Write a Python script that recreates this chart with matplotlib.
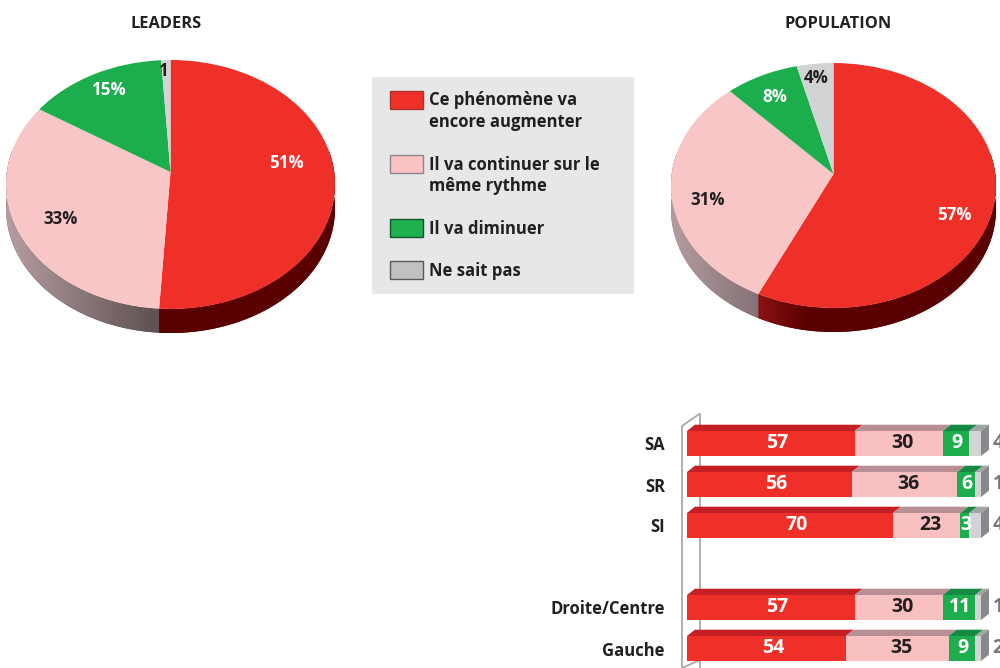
import numpy as np
import matplotlib
matplotlib.use('Agg')
import matplotlib.pyplot as plt
from matplotlib.colors import to_rgb
from matplotlib.patches import Rectangle
from matplotlib.transforms import Transform

plt.rcParams['font.family'] = ['Open Sans', 'DejaVu Sans']
plt.rcParams['font.weight'] = 'bold'

leaders = [51, 33, 15, 1]
population = [57, 31, 8, 4]
legend_labels = ['Ce phénomène va\nencore augmenter', 'Il va continuer sur le\nmême rythme',
                 'Il va diminuer', 'Ne sait pas']

groups = ['SA', 'SR', 'SI', '', 'Droite/Centre', 'Gauche']
more = [57, 56, 70, None, 57, 54]
same = [30, 36, 23, None, 30, 35]
less = [9, 6, 3, None, 11, 9]
dont_know = [4, 1, 4, None, 1, 2]

RED, PINK, GREEN, GREY = '#ef3029', '#f9c6c7', '#1cae4d', '#d1d3d4'
DARK = '#231f20'
W, H = 1000, 668


class PieTilt(Transform):
    """Unit circle to pixels, with the apex off the ellipse centre (perspective)."""
    input_dims = output_dims = 2

    def __init__(self, cx, cy, rx, ry, apex_y):
        super().__init__()
        self.cx, self.cy, self.rx, self.ry = cx, cy, rx, ry
        self.c = (cy - apex_y) / ry

    def transform_non_affine(self, values):
        u, v = np.asarray(values).T
        d = 1 + self.c * v
        x = self.cx + self.rx * np.sqrt(1 - self.c ** 2) * u / d
        y = self.cy - self.ry * (v + self.c) / d
        return np.column_stack([x, y])


def wall(ax, tilt, start, end, depth, stops):
    """Side of one slice, start and end in degrees clockwise from the top."""
    t = np.radians(np.linspace(max(start, 80), min(end, 280), 120))
    rim = tilt.transform_non_affine(np.column_stack([np.sin(t), np.cos(t)]))
    low = rim[::-1] + [0, depth]
    pts = np.vstack([rim, low])
    poly = ax.fill(pts[:, 0], pts[:, 1], color=stops[-1][1], lw=0, zorder=0.2)[0]
    x0, x1 = pts[:, 0].min(), pts[:, 0].max()
    xs = np.linspace(x0, x1, 256)
    px = [s[0] for s in stops]
    rgb = np.array([to_rgb(s[1]) for s in stops])
    grad = np.stack([np.interp(xs, px, rgb[:, i]) for i in range(3)], axis=-1)[None, :, :]
    im = ax.imshow(grad, extent=(x0, x1, pts[:, 1].max(), pts[:, 1].min()),
                   aspect='auto', zorder=0.3, interpolation='bilinear')
    im.set_clip_path(poly)


def tilted_pie(ax, values, tilt, depth, wall_stops):
    edges = np.cumsum([0] + values) * 3.6
    for i in range(2):
        wall(ax, tilt, edges[i], edges[i + 1], depth, wall_stops[i])
    wedges, _ = ax.pie(values, colors=[RED, PINK, GREEN, GREY], startangle=90, counterclock=False)
    for w in wedges:
        w.set_transform(tilt + ax.transData)
        w.set_zorder(1)


fig = plt.figure(figsize=(W / 100, H / 100), dpi=100)
ax = fig.add_axes([0, 0, 1, 1])

tilted_pie(ax, leaders, PieTilt(170.5, 184.5, 164.5, 124.5, 172), 24,
           [[(159, '#5a0000'), (340, '#5a0000')],
            [(8, '#b59ca0'), (159, '#5c4f50')]])
tilted_pie(ax, population, PieTilt(833.5, 185.5, 162.5, 122.5, 174), 24,
           [[(758, '#8c1414'), (805, '#5a0000')],
            [(674, '#b39a9e'), (758, '#857277')]])

ax.set_aspect('auto')
ax.set_xlim(0, W)
ax.set_ylim(H, 0)
ax.axis('off')

ax.text(166, 24.5, 'LEADERS', ha='center', va='center', fontsize=11.8, color=DARK)
ax.text(838.5, 24.5, 'POPULATION', ha='center', va='center', fontsize=11.8, color=DARK)

pie_texts = [(286.5, 163, '51%', 'white'), (109.5, 90, '15%', 'white'), (61, 219, '33%', DARK),
             (164, 71, '1', DARK), (954.5, 215, '57%', 'white'), (775, 97, '8%', 'white'),
             (708, 200, '31%', DARK), (816.5, 78, '4%', DARK)]
for x, y, s, col in pie_texts:
    ax.text(x, y, s, ha='center', va='center', fontsize=12.2, color=col, zorder=3)

# legend panel
ax.add_patch(Rectangle((372, 77), 262, 217, fc='#e6e7e8', ec='none', zorder=0.1))
swatches = [(91, 111, RED, '#a5352b'), (155, 175.5, '#fbc2c4', '#8f8587'),
            (219, 228.5, '#1fb04f', '#14572c'), (261, 270.5, '#bfc1c3', '#58595b')]
for (y0, yc, col, edge), label in zip(swatches, legend_labels):
    ax.add_patch(Rectangle((389.5, y0), 33.5, 18, fc=col, ec=edge, lw=1, zorder=2))
    ax.text(429, yc, label, ha='left', va='center', fontsize=12, color=DARK,
            linespacing=1.22, zorder=3)

# axis bracket behind the bars
bracket = '#a7a9ac'
ax.plot([700, 700, 682, 682, 700], [H, 413.5, 426, H, 660], color=bracket, lw=1.3, zorder=0.5,
        solid_joinstyle='miter')

# bars: x is percent, y is the group position
bx = fig.add_axes([687 / W, 1 - 669 / H, 294 / W, 246 / H])
bx.patch.set_alpha(0)
y = np.arange(len(groups))
has = np.array([m is not None for m in more])
vals = np.array([[m or 0, s or 0, l or 0] for m, s, l in zip(more, same, less)], dtype=float)
rest = np.where(has, 100 - vals.sum(axis=1), 0)
stack = np.column_stack([vals, rest])
height = 25 / 41
front = [RED, '#f9c0c1', GREEN, GREY]
top = ['#c51f26', '#b78f94', '#168a43', '#a2a4a6']
dx, dy = 8 / 2.94, 6.3 / 41

left = np.zeros(len(groups))
for j in range(4):
    bx.barh(y[has], stack[has, j], left=left[has], height=height, color=front[j], zorder=2)
    for yi, l, v in zip(y[has], left[has], stack[has, j]):
        up = yi - height / 2
        bx.fill([l, l + v, l + v + dx, l + dx], [up, up, up - dy, up - dy],
                color=top[j], lw=0, zorder=1.5, clip_on=False)
    left += stack[:, j]
for yi in y[has]:
    up, lo = yi - height / 2, yi + height / 2
    bx.fill([100, 100 + dx, 100 + dx, 100], [up, up - dy, lo - dy, lo],
            color='#88898c', lw=0, zorder=1.8, clip_on=False)

nudge = [2.2, 1.3, 0.2]
for j, col in enumerate(['white', DARK, 'white']):
    mid = stack[:, j] / 2 + stack[:, :j].sum(axis=1) + nudge[j]
    for yi, xm, v, ok in zip(y, mid, stack[:, j], has):
        if ok:
            bx.text(xm, yi - 0.02, f'{int(v)}', ha='center', va='center', fontsize=14, color=col, zorder=3)
for yi, v, ok in zip(y, dont_know, has):
    if ok:
        bx.text(104, yi - 0.02, str(v), ha='left', va='center', fontsize=14, color='#77787b',
                zorder=3, clip_on=False)

bx.set_xlim(0, 100)
bx.set_ylim(5.5, -0.5)
for s in bx.spines.values():
    s.set_visible(False)
bx.set_xticks([])
bx.set_yticks(y[has])
bx.set_yticklabels([g for g, ok in zip(groups, has) if ok], fontsize=12, color=DARK)
bx.tick_params(axis='y', length=0, pad=16)

fig.savefig('out.png', dpi=100)
